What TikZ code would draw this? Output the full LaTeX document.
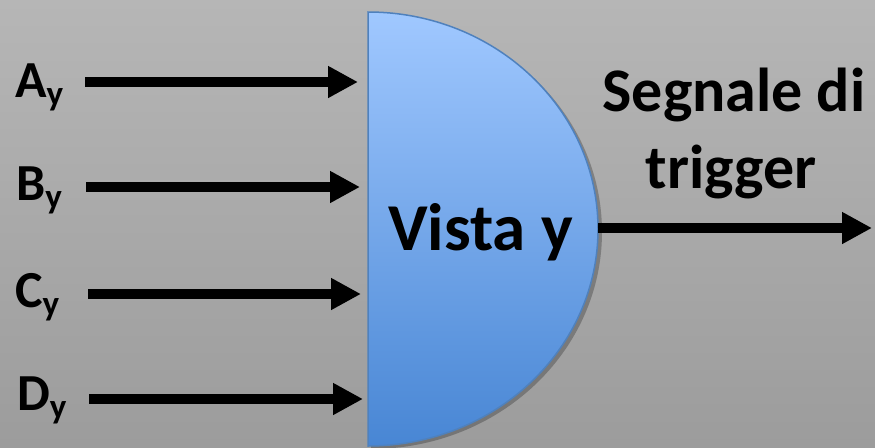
\documentclass[tikz,border=0pt]{standalone}
\usepackage{fontspec}
\setmainfont{Carlito}
\usetikzlibrary{arrows.meta}
\definecolor{bgtop}{RGB}{182,182,182}
\definecolor{bgbot}{RGB}{156,156,156}
\definecolor{gatetop}{RGB}{160,200,255}
\definecolor{gatebot}{RGB}{72,134,212}
\definecolor{gateline}{RGB}{79,129,189}
\tikzset{
  sig/.style={line width=10pt, -{Triangle[length=30pt,width=30pt]}},
  inlabel/.style={anchor=base west, inner sep=0pt, font=\bfseries\fontsize{52}{52}\selectfont},
  bigtext/.style={anchor=base west, inner sep=0pt, font=\bfseries\fontsize{67}{67}\selectfont},
  sidetext/.style={anchor=base, inner sep=0pt, font=\bfseries\fontsize{62}{62}\selectfont},
}
\newcommand{\suby}{\raisebox{-8pt}{\fontsize{35}{35}\selectfont y}}
\begin{document}
\begin{tikzpicture}[x=1pt,y=-1pt]
\shade[top color=bgtop, bottom color=bgbot] (0,0) rectangle (875,447);
\useasboundingbox (0,0) rectangle (875,447);
% gate
\fill[black, opacity=0.25] (371,15) arc[start angle=-90, end angle=90, x radius=231, y radius=217] -- cycle;
\shade[top color=gatetop, bottom color=gatebot, draw=gateline, line width=1.5pt]
  (368,12) arc[start angle=-90, end angle=90, x radius=230, y radius=217] -- cycle;
\coordinate (gateout) at (598,228);
\coordinate (outtip) at (872,228);
\coordinate (ina) at (358,82);
\coordinate (inb) at (360,187);
\coordinate (inc) at (361,294);
\coordinate (ind) at (363,399);
\coordinate (sa) at (85,82);
\coordinate (sb) at (86,187);
\coordinate (sc) at (88,294);
\coordinate (sd) at (89,399);
\node[inlabel] (la) at (15,97) {A\suby};
\node[inlabel] (lb) at (16,200) {B\suby};
\node[inlabel] (lc) at (15,307) {C\suby};
\node[inlabel] (ld) at (17,410) {D\suby};
\draw[sig] (sa) -- (ina);
\draw[sig] (sb) -- (inb);
\draw[sig] (sc) -- (inc);
\draw[sig] (sd) -- (ind);
\draw[sig] (gateout) -- (outtip);
\node[bigtext] (vista) at (388,250) {Vista y};
\node[sidetext] (seg) at (734,111) {Segnale di};
\node[sidetext] (trig) at (731,188) {trigger};
\end{tikzpicture}
\end{document}
